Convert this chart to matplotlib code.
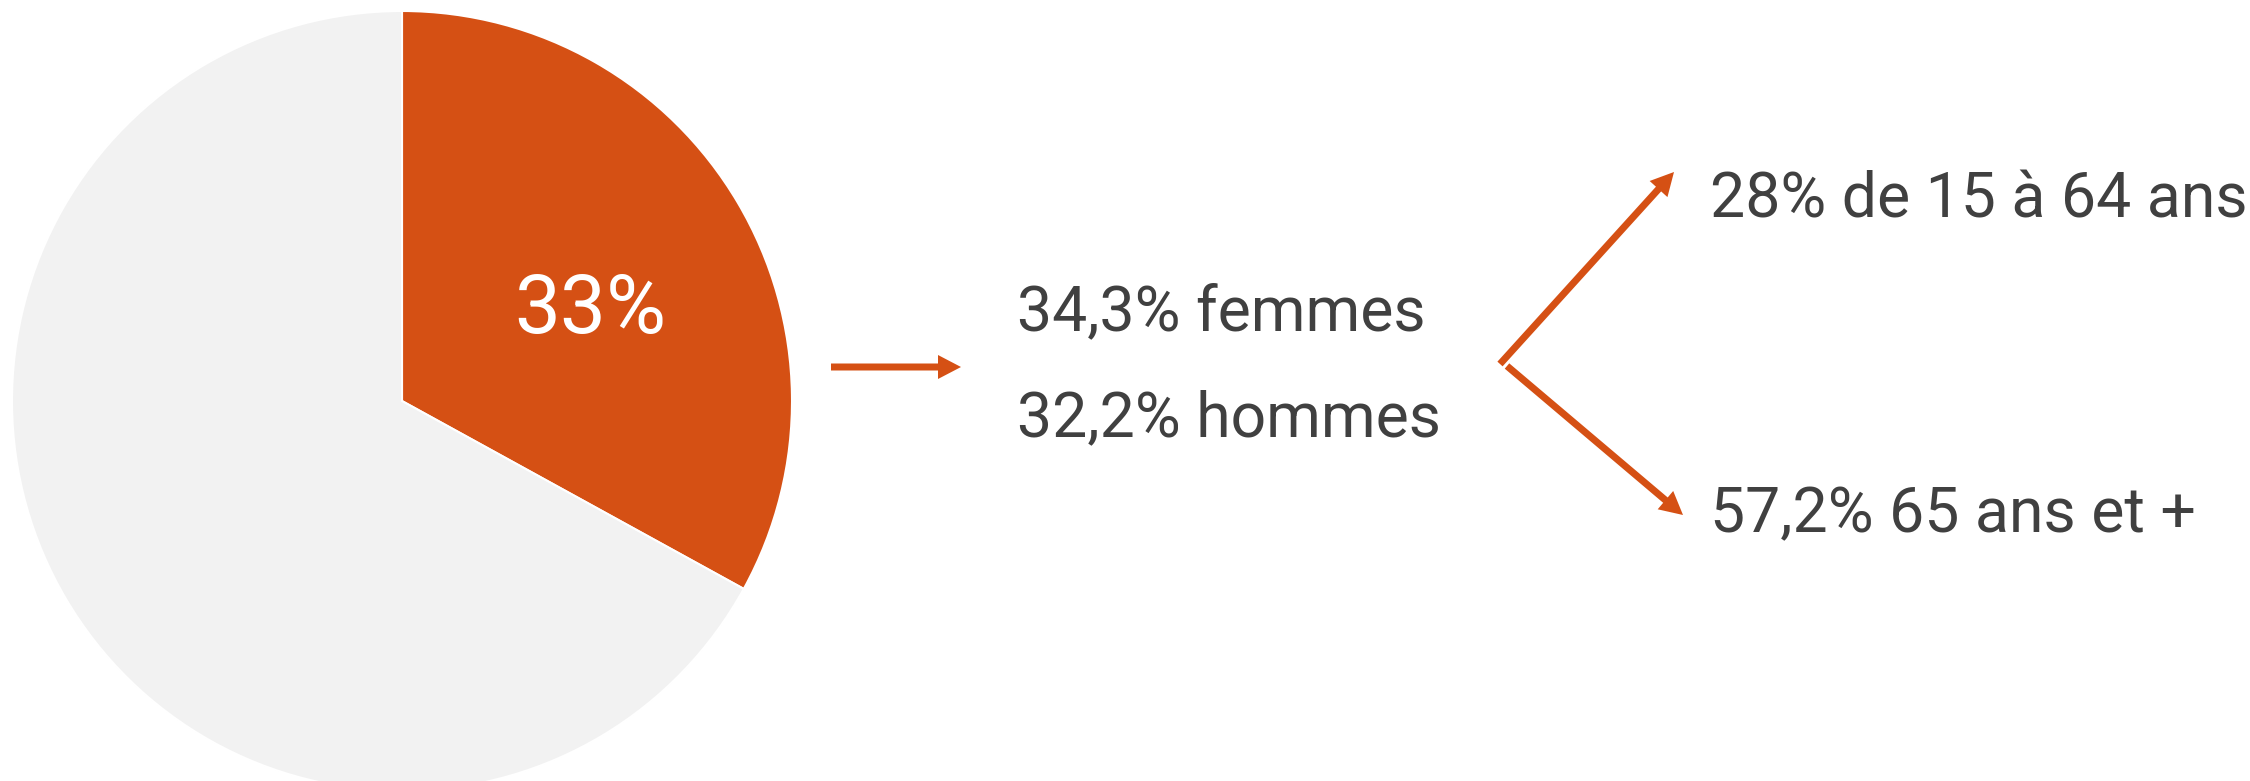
import matplotlib
matplotlib.use("Agg")
import matplotlib.pyplot as plt

# data
pie_values = [33, 67]
pie_colors = ["#D55014", "#F2F2F2"]
pie_label = "33%"
sex_labels = ["34,3% femmes", "32,2% hommes"]
age_labels = ["28% de 15 à 64 ans", "57,2% 65 ans et +"]

W, H = 2250, 781
ORANGE = "#D55014"
TEXT = "#404040"
FONT = ["Roboto", "DejaVu Sans"]


def Y(y_img):
    # image rows (top-down) -> data y (bottom-up)
    return H - y_img


def arrow(ax, p0, p1, width, hw, hl):
    x0, y0 = p0[0], Y(p0[1])
    x1, y1 = p1[0], Y(p1[1])
    ax.arrow(x0, y0, x1 - x0, y1 - y0, width=width, head_width=hw,
             head_length=hl, length_includes_head=True,
             color=ORANGE, lw=0)


fig = plt.figure(figsize=(W / 100, H / 100), dpi=100)
ax = fig.add_axes([0, 0, 1, 1])

ax.pie(
    pie_values,
    colors=pie_colors,
    startangle=90,
    counterclock=False,
    center=(402, Y(401)),
    radius=390,
    frame=True,
    wedgeprops=dict(edgecolor="white", linewidth=1.5),
)
ax.set_xlim(0, W)
ax.set_ylim(0, H)
ax.set_aspect("equal")
ax.axis("off")

ax.text(590, Y(333), pie_label, color="white", fontsize=59,
        family=FONT, ha="center", va="baseline")

# horizontal arrow
arrow(ax, (831, 367), (961, 367), width=7, hw=24, hl=23)

# sex split
for lab, yb in zip(sex_labels, [330, 436]):
    ax.text(1017, Y(yb), lab, color=TEXT, fontsize=45, family=FONT,
            ha="left", va="baseline")

# branching arrows
arrow(ax, (1500, 364), (1674, 172), width=7, hw=24, hl=23)
arrow(ax, (1507, 366), (1683, 515), width=7, hw=24, hl=23)

for lab, yb in zip(age_labels, [217, 532]):
    ax.text(1710, Y(yb), lab, color=TEXT, fontsize=45, family=FONT,
            ha="left", va="baseline")

fig.savefig("out.png", dpi=100)
